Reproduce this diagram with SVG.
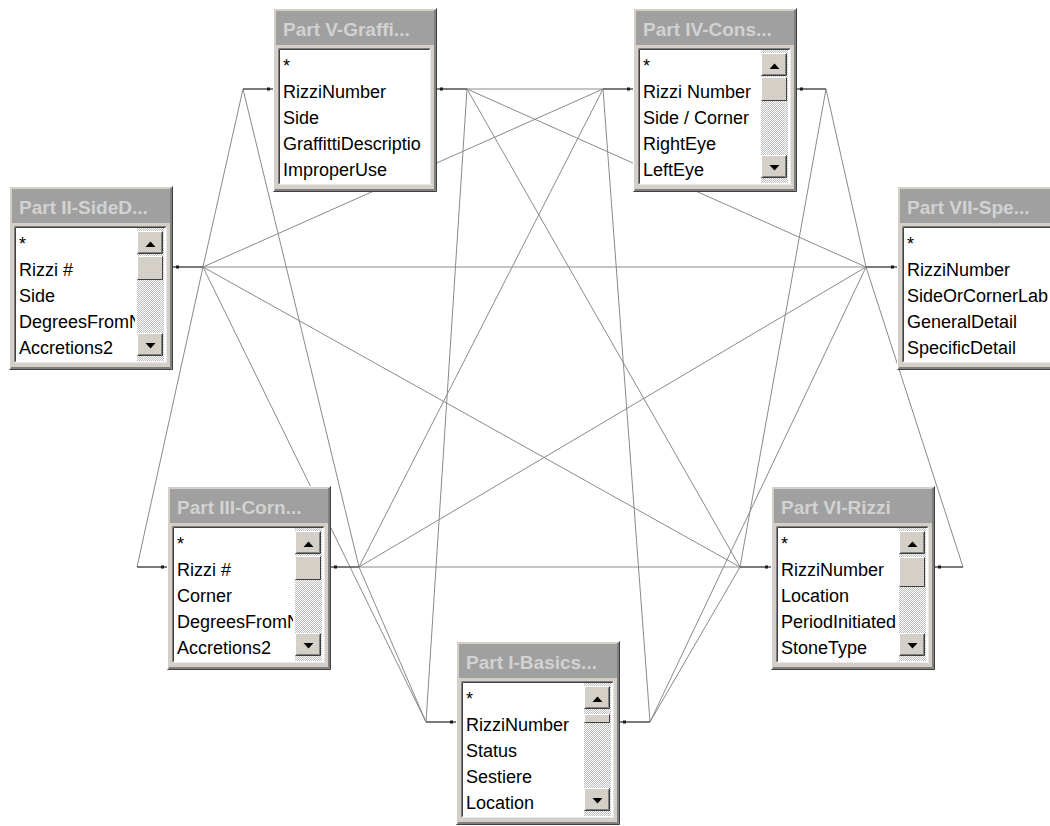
<svg xmlns="http://www.w3.org/2000/svg" xmlns:xlink="http://www.w3.org/1999/xlink" width="1050" height="826" viewBox="0 0 1050 826">
<defs>
<style>
.ttext{font-family:"Liberation Sans",Arial,sans-serif;font-weight:bold;font-size:19px;fill:#d2d2d2}
.f{font-family:"Liberation Sans",Arial,sans-serif;font-size:18px;fill:#000}
.ln{stroke:#8a8a8a;stroke-width:1;fill:none}
.stub{stroke:#505050;stroke-width:1.3;fill:none}
.dot{fill:#1a1a1a}
.hl{stroke:#ffffff;fill:none}
.dk{stroke:#404040;fill:none}
.md{stroke:#808080;fill:none}
</style>
<pattern id="hatch" width="2" height="2" patternUnits="userSpaceOnUse"><rect width="2" height="2" fill="#ffffff"/><rect width="1" height="1" fill="#bdbdbd"/><rect x="1" y="1" width="1" height="1" fill="#bdbdbd"/></pattern>
<clipPath id="clipSB"><rect x="7" y="42" width="119" height="133"/></clipPath>
<clipPath id="clipFull"><rect x="7" y="42" width="146" height="133"/></clipPath>
<g id="frm">
<rect x="0" y="0" width="164" height="184" fill="#d4d0c8"/>
<path class="hl" d="M0.5 183V0.5H163"/>
<path class="dk" d="M0.5 183.5H163.5V0.5"/>
<path class="md" d="M1.5 182.5H162.5V1.5"/>
<path class="md" d="M2 181.5H161.5V2"/>
<rect x="3" y="3" width="158" height="34" fill="#a0a0a0"/>
<rect x="5" y="40" width="153" height="137" fill="#ffffff"/>
<path class="md" d="M5.5 176.5V40.5H157.5"/>
<path class="dk" d="M6.5 175.5V41.5H156.5"/>
<path stroke="#e8e8e8" fill="none" d="M5.5 176.5H157.5V40.5"/>
</g>
<g id="btn">
<rect width="26" height="23" fill="#d4d0c8"/>
<path class="hl" d="M0.5 22.5V0.5H25.5"/>
<path class="dk" d="M0.5 22.5H25.5V0.5"/>
<path class="md" d="M1.5 21.5H24.5V1.5"/>
</g>
<g id="sb">
<rect x="128" y="42" width="27" height="133" fill="url(#hatch)"/>
<use xlink:href="#btn" x="128" y="45"/>
<polygon points="136.5,61 146.5,61 141.5,55.5" fill="#000"/>
<use xlink:href="#btn" x="128" y="147"/>
<polygon points="136.5,157 146.5,157 141.5,162.5" fill="#000"/>
</g>
</defs>
<rect width="1050" height="826" fill="#ffffff"/>

<g id="connectors">
<line class="ln" x1="203" y1="267" x2="243" y2="89"/>
<line class="ln" x1="203" y1="267" x2="603" y2="89"/>
<line class="ln" x1="203" y1="267" x2="866" y2="267"/>
<line class="ln" x1="203" y1="267" x2="740" y2="567"/>
<line class="ln" x1="203" y1="267" x2="137" y2="567"/>
<line class="ln" x1="203" y1="267" x2="426" y2="722"/>
<line class="ln" x1="243" y1="89" x2="359" y2="567"/>
<line class="ln" x1="467" y1="89" x2="603" y2="89"/>
<line class="ln" x1="467" y1="89" x2="866" y2="267"/>
<line class="ln" x1="467" y1="89" x2="426" y2="722"/>
<line class="ln" x1="467" y1="89" x2="740" y2="567"/>
<line class="ln" x1="603" y1="89" x2="359" y2="567"/>
<line class="ln" x1="603" y1="89" x2="650" y2="722"/>
<line class="ln" x1="826" y1="89" x2="740" y2="567"/>
<line class="ln" x1="826" y1="89" x2="866" y2="267"/>
<line class="ln" x1="866" y1="267" x2="963" y2="567"/>
<line class="ln" x1="359" y1="567" x2="740" y2="567"/>
<line class="ln" x1="359" y1="567" x2="866" y2="267"/>
<line class="ln" x1="359" y1="567" x2="426" y2="722"/>
<line class="ln" x1="650" y1="722" x2="740" y2="567"/>
<line class="ln" x1="650" y1="722" x2="866" y2="267"/>
<path class="stub" d="M273 89H243M437 89H467M633 89H603M797 89H826M173 267H203M897 267H866M167 567H137M331 567H359M771 567H740M935 567H963M456 722H426M620 722H650"/>
<g class="dot">
<rect x="267" y="87.5" width="3" height="3"/><rect x="440" y="87.5" width="3" height="3"/>
<rect x="627" y="87.5" width="3" height="3"/><rect x="800" y="87.5" width="3" height="3"/>
<rect x="176" y="265.5" width="3" height="3"/><rect x="891" y="265.5" width="3" height="3"/>
<rect x="161" y="565.5" width="3" height="3"/><rect x="334" y="565.5" width="3" height="3"/>
<rect x="765" y="565.5" width="3" height="3"/><rect x="938" y="565.5" width="3" height="3"/>
<rect x="450" y="720.5" width="3" height="3"/><rect x="623" y="720.5" width="3" height="3"/>
</g>
</g>

<g id="part-v" transform="translate(273,8)">
<use xlink:href="#frm"/>
<text class="ttext" x="10" y="28">Part V-Graffi...</text>
<g clip-path="url(#clipFull)">
<text class="f" x="10" y="64">*</text>
<text class="f" x="10" y="90">RizziNumber</text>
<text class="f" x="10" y="116">Side</text>
<text class="f" x="10" y="142">GraffittiDescriptio</text>
<text class="f" x="10" y="168">ImproperUse</text>
</g>
</g>

<g id="part-iv" transform="translate(633,8)">
<use xlink:href="#frm"/>
<text class="ttext" x="10" y="28">Part IV-Cons...</text>
<use xlink:href="#sb"/>
<rect x="128" y="69" width="26" height="24" fill="#d4d0c8"/>
<path class="hl" d="M128.5 92.5V69.5H153.5"/><path class="dk" d="M128.5 92.5H153.5V69.5"/>
<g clip-path="url(#clipSB)">
<text class="f" x="10" y="64">*</text>
<text class="f" x="10" y="90">Rizzi Number</text>
<text class="f" x="10" y="116">Side / Corner</text>
<text class="f" x="10" y="142">RightEye</text>
<text class="f" x="10" y="168">LeftEye</text>
</g>
</g>

<g id="part-ii" transform="translate(9,186)">
<use xlink:href="#frm"/>
<text class="ttext" x="10" y="28">Part II-SideD...</text>
<use xlink:href="#sb"/>
<rect x="128" y="70" width="26" height="24" fill="#d4d0c8"/>
<path class="hl" d="M128.5 93.5V70.5H153.5"/><path class="dk" d="M128.5 93.5H153.5V70.5"/>
<g clip-path="url(#clipSB)">
<text class="f" x="10" y="64">*</text>
<text class="f" x="10" y="90">Rizzi #</text>
<text class="f" x="10" y="116">Side</text>
<text class="f" x="10" y="142">DegreesFromN</text>
<text class="f" x="10" y="168">Accretions2</text>
</g>
</g>

<g id="part-vii" transform="translate(897,186)">
<rect x="0" y="0" width="200" height="184" fill="#d4d0c8"/>
<path class="hl" d="M0.5 183V0.5H199"/>
<path class="dk" d="M0.5 183.5H199.5"/>
<path class="md" d="M1.5 182.5H199M2 181.5H199"/>
<rect x="3" y="3" width="197" height="34" fill="#a0a0a0"/>
<rect x="5" y="40" width="195" height="137" fill="#ffffff"/>
<path class="md" d="M5.5 176.5V40.5H200"/>
<path class="dk" d="M6.5 175.5V41.5H200"/>
<path stroke="#e8e8e8" fill="none" d="M5.5 176.5H200"/>
<text class="ttext" x="10" y="28">Part VII-Spe...</text>
<text class="f" x="10" y="64">*</text>
<text class="f" x="10" y="90">RizziNumber</text>
<text class="f" x="10" y="116">SideOrCornerLab</text>
<text class="f" x="10" y="142">GeneralDetail</text>
<text class="f" x="10" y="168">SpecificDetail</text>
</g>

<g id="part-iii" transform="translate(167,486)">
<use xlink:href="#frm"/>
<text class="ttext" x="10" y="28">Part III-Corn...</text>
<use xlink:href="#sb"/>
<rect x="128" y="70" width="26" height="24" fill="#d4d0c8"/>
<path class="hl" d="M128.5 93.5V70.5H153.5"/><path class="dk" d="M128.5 93.5H153.5V70.5"/>
<g clip-path="url(#clipSB)">
<text class="f" x="10" y="64">*</text>
<text class="f" x="10" y="90">Rizzi #</text>
<text class="f" x="10" y="116">Corner</text>
<text class="f" x="10" y="142">DegreesFromN</text>
<text class="f" x="10" y="168">Accretions2</text>
</g>
</g>

<g id="part-vi" transform="translate(771,486)">
<use xlink:href="#frm"/>
<text class="ttext" x="10" y="28">Part VI-Rizzi</text>
<use xlink:href="#sb"/>
<rect x="128" y="71" width="26" height="30" fill="#d4d0c8"/>
<path class="hl" d="M128.5 100.5V71.5H153.5"/><path class="dk" d="M128.5 100.5H153.5V71.5"/>
<g clip-path="url(#clipSB)">
<text class="f" x="10" y="64">*</text>
<text class="f" x="10" y="90">RizziNumber</text>
<text class="f" x="10" y="116">Location</text>
<text class="f" x="10" y="142">PeriodInitiated</text>
<text class="f" x="10" y="168">StoneType</text>
</g>
</g>

<g id="part-i" transform="translate(456,641)">
<use xlink:href="#frm"/>
<text class="ttext" x="10" y="28">Part I-Basics...</text>
<use xlink:href="#sb"/>
<rect x="128" y="73" width="26" height="9" fill="#d4d0c8"/>
<path class="hl" d="M128.5 81.5V73.5H153.5"/><path class="dk" d="M128.5 81.5H153.5V73.5"/>
<g clip-path="url(#clipSB)">
<text class="f" x="10" y="64">*</text>
<text class="f" x="10" y="90">RizziNumber</text>
<text class="f" x="10" y="116">Status</text>
<text class="f" x="10" y="142">Sestiere</text>
<text class="f" x="10" y="168">Location</text>
</g>
</g>
</svg>
